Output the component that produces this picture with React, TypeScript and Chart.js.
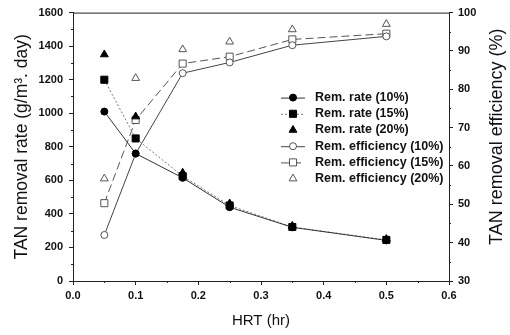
import React, { useEffect, useRef } from "react";
import { Chart, registerables } from "chart.js";

Chart.register(...registerables);

const hrt = [0.05, 0.1, 0.175, 0.25, 0.35, 0.5];
const rate10 = [1010, 760, 615, 440, 320, 242];
const rate15 = [1200, 850, 625, 450, 322, 245];
const rate20 = [1350, 980, 645, 462, 328, 250];
const eff10 = [42, 63.2, 84.2, 87, 91.5, 93.8];
const eff15 = [50.3, 72, 86.7, 88.5, 93, 94.5];
const eff20 = [56.7, 82.9, 90.4, 92.4, 95.6, 97];

const seriesLabels = [
  "Rem. rate (10%)",
  "Rem. rate (15%)",
  "Rem. rate (20%)",
  "Rem. efficiency (10%)",
  "Rem. efficiency (15%)",
  "Rem. efficiency (20%)",
];

const xTitle = "HRT (hr)";
const yTitle = "TAN removal rate (g/m³. day)";
const y1Title = "TAN removal efficiency (%)";

const FONT = "'Liberation Sans', Arial, sans-serif";

function pts(ys: number[]) {
  return hrt.map((x, i) => ({ x, y: ys[i] }));
}

function drawMarker(ctx: CanvasRenderingContext2D, style: string, r: number, x: number, y: number, fill: string, stroke: string) {
  ctx.save();
  ctx.beginPath();
  if (style === "circle") {
    ctx.arc(x, y, r, 0, Math.PI * 2);
  } else if (style === "rect") {
    const s = r * Math.SQRT1_2;
    ctx.rect(x - s, y - s, 2 * s, 2 * s);
  } else {
    const h = r * 1.5;
    ctx.moveTo(x, y - r);
    ctx.lineTo(x + h * 0.577, y + r * 0.5);
    ctx.lineTo(x - h * 0.577, y + r * 0.5);
    ctx.closePath();
  }
  ctx.fillStyle = fill;
  ctx.fill();
  ctx.lineWidth = 1;
  ctx.strokeStyle = stroke;
  ctx.setLineDash([]);
  ctx.stroke();
  ctx.restore();
}

const decorPlugin = {
  id: "decor",
  afterDraw(chart: any) {
    const { ctx, chartArea } = chart;
    const { left, right, top, bottom } = chartArea;
    ctx.save();
    ctx.strokeStyle = "#222";
    ctx.lineWidth = 1;
    ctx.strokeRect(left + 0.5, top + 0.5, right - left, bottom - top);
    const xs = chart.scales.x, ys = chart.scales.y, y1 = chart.scales.y1;
    ctx.beginPath();
    for (let v = 0.05; v < 0.6; v += 0.1) {
      const px = Math.round(xs.getPixelForValue(v)) + 0.5;
      ctx.moveTo(px, bottom);
      ctx.lineTo(px, bottom + 2);
    }
    for (let v = 100; v < 1600; v += 200) {
      const py = Math.round(ys.getPixelForValue(v)) + 0.5;
      ctx.moveTo(left, py);
      ctx.lineTo(left - 2, py);
    }
    for (let v = 35; v < 100; v += 10) {
      const py = Math.round(y1.getPixelForValue(v)) + 0.5;
      ctx.moveTo(right, py);
      ctx.lineTo(right + 2, py);
    }
    ctx.stroke();

    ctx.save();
    ctx.translate(497, (top + bottom) / 2 - 10);
    ctx.rotate(-Math.PI / 2);
    ctx.font = `18px ${FONT}`;
    ctx.fillStyle = "#111";
    ctx.textAlign = "center";
    ctx.textBaseline = "middle";
    ctx.fillText(y1Title, 0, 0);
    ctx.restore();

    const lx = left + 208;
    const ly = top + 85;
    chart.data.datasets.forEach((ds: any, i: number) => {
      const cy = ly + i * 16.2;
      if (ds.showLine !== false) {
        ctx.save();
        ctx.beginPath();
        ctx.strokeStyle = ds.borderColor;
        ctx.lineWidth = 1;
        ctx.setLineDash(ds.borderDash || []);
        ctx.moveTo(lx, cy + 0.5);
        ctx.lineTo(lx + 24, cy + 0.5);
        ctx.stroke();
        ctx.restore();
      }
      drawMarker(ctx, ds.pointStyle, ds.pointRadius, lx + 12, cy, ds.pointBackgroundColor, ds.pointBorderColor);
      ctx.font = `bold 12.5px ${FONT}`;
      ctx.fillStyle = "#111";
      ctx.textAlign = "left";
      ctx.textBaseline = "middle";
      ctx.fillText(ds.label, lx + 34, cy);
    });
    ctx.restore();
  },
};

function mk(label: string, ys: number[], axis: string, style: string, r: number, filled: boolean, showLine: boolean, color: string, dash: number[]) {
  return {
    label,
    data: pts(ys),
    yAxisID: axis,
    showLine,
    borderColor: color,
    borderWidth: 1,
    borderDash: dash,
    pointStyle: style,
    pointRadius: r,
    pointBorderWidth: 1,
    pointBackgroundColor: filled ? "#000" : "#fff",
    pointBorderColor: filled ? "#000" : "#555",
    fill: false,
    tension: 0,
  };
}

export default function App() {
  const ref = useRef<HTMLCanvasElement>(null);
  useEffect(() => {
    document.body.style.margin = "0";
    const chart = new Chart(ref.current!, {
      type: "line",
      data: {
        datasets: [
          mk(seriesLabels[0], rate10, "y", "circle", 3.5, true, true, "#333", []),
          mk(seriesLabels[1], rate15, "y", "rect", 5, true, true, "#777", [2, 2]),
          mk(seriesLabels[2], rate20, "y", "triangle", 4.5, true, false, "#000", []),
          mk(seriesLabels[3], eff10, "y1", "circle", 3.5, false, true, "#444", []),
          mk(seriesLabels[4], eff15, "y1", "rect", 5, false, true, "#555", [8, 4]),
          mk(seriesLabels[5], eff20, "y1", "triangle", 4.5, false, false, "#555", []),
        ] as any,
      },
      options: {
        animation: false,
        responsive: false,
        maintainAspectRatio: false,
        layout: { padding: { top: 12, left: 0, right: 0, bottom: 0 } },
        plugins: { legend: { display: false }, tooltip: { enabled: false } },
        scales: {
          x: {
            type: "linear",
            min: 0,
            max: 0.6,
            afterFit: (s: any) => { s.height = 54; },
            ticks: {
              stepSize: 0.1,
              color: "#111",
              padding: 4,
              font: { family: FONT, size: 11, weight: "bold" },
              callback: (v: any) => Number(v).toFixed(1),
            },
            grid: { drawOnChartArea: false, drawTicks: true, tickLength: 4, color: "#222" },
            border: { display: true, color: "#222" },
            title: { display: true, text: xTitle, color: "#111", font: { family: FONT, size: 15 }, padding: { top: 0, bottom: 5 } },
          },
          y: {
            position: "left",
            min: 0,
            max: 1600,
            afterFit: (s: any) => { s.width = 73; },
            ticks: {
              stepSize: 200,
              color: "#111",
              padding: 6,
              font: { family: FONT, size: 11, weight: "bold" },
              callback: (v: any) => String(v),
            },
            grid: { drawOnChartArea: false, drawTicks: true, tickLength: 4, color: "#222" },
            border: { display: true, color: "#222" },
            title: { display: true, text: yTitle, color: "#111", font: { family: FONT, size: 17.5 }, padding: { top: 12, bottom: 0 } },
          },
          y1: {
            position: "right",
            min: 30,
            max: 100,
            afterFit: (s: any) => { s.width = 61; },
            ticks: {
              stepSize: 10,
              color: "#111",
              padding: 5,
              font: { family: FONT, size: 11, weight: "bold" },
              callback: (v: any) => String(v),
            },
            grid: { drawOnChartArea: false, drawTicks: true, tickLength: 4, color: "#222" },
            border: { display: true, color: "#222" },
            title: { display: false },
          },
        },
      } as any,
      plugins: [decorPlugin],
    });
    return () => chart.destroy();
  }, []);
  return (
    <div style={{ position: "absolute", left: 0, top: 0, width: 510, height: 335, background: "#fff" }}>
      <canvas ref={ref} width={510} height={335} style={{ width: 510, height: 335 }} />
    </div>
  );
}
